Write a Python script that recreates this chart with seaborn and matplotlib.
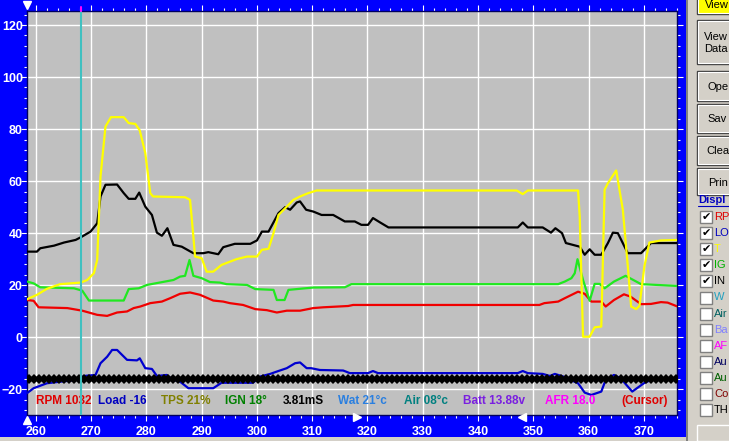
import numpy as np
import pandas as pd
import seaborn as sns
import matplotlib.pyplot as plt
from matplotlib.patches import Rectangle
from matplotlib.ticker import MultipleLocator

W, H = 729, 441

# logged channels, time in seconds
rpm_t = [258.4, 259.6, 260.5, 265.7, 268.4, 271.1, 272.9, 274.7, 276.5, 277.7, 278.9, 280.7,
         282.8, 284.3, 286.1, 287.9, 289.7, 292.1, 293.9, 295.1, 297.5, 299.7, 301.8, 303.6,
         305.4, 307.8, 310.2, 312.0, 316.5, 317.4, 351.1, 352.0, 354.5, 355.7, 358.1, 359.3,
         360.5, 362.3, 363.1, 364.6, 366.4, 367.6, 369.5, 371.3, 373.1, 374.3, 376.1]
rpm_v = [14.3, 14.0, 11.5, 11.2, 10.2, 8.6, 8.2, 9.5, 9.9, 11.2, 11.8, 13.1,
         13.7, 15.0, 16.7, 17.2, 16.3, 14.1, 13.7, 13.1, 12.4, 10.8, 10.4, 9.5,
         10.2, 10.2, 11.2, 11.5, 12.0, 12.4, 12.4, 13.1, 13.7, 15.0, 17.5, 16.7,
         13.7, 13.7, 11.8, 14.3, 16.5, 15.6, 12.7, 12.8, 13.5, 13.3, 11.8]

load_t = [258.4, 259.6, 262.0, 264.4, 267.5, 268.7, 270.8, 271.7, 272.9, 273.8, 274.7, 276.5,
          278.3, 278.8, 279.8, 281.0, 281.9, 283.7, 284.6, 286.1, 287.6, 292.1, 293.6, 299.3,
          300.6, 302.4, 303.6, 305.4, 306.9, 307.8, 309.0, 309.8, 311.4, 315.6, 316.8, 320.1,
          321.0, 321.9, 347.2, 348.1, 349.0, 351.7, 353.0, 353.9, 355.4, 356.5, 358.1, 359.3,
          360.5, 362.3, 363.1, 364.6, 365.8, 367.9, 370.0, 371.3, 376.0]
load_v = [-21.5, -19.6, -17.7, -17.1, -16.4, -14.9, -14.5, -10.0, -7.5, -4.9, -4.9, -8.7,
          -8.9, -8.1, -11.9, -12.2, -14.9, -14.5, -16.2, -17.1, -19.6, -19.6, -17.5, -17.5,
          -15.1, -14.1, -13.2, -11.9, -10.0, -9.7, -11.9, -11.9, -12.6, -12.8, -13.8, -13.8,
          -13.0, -13.8, -13.8, -13.0, -13.8, -14.1, -14.9, -14.1, -15.1, -16.2, -17.7, -21.3,
          -22.2, -20.9, -16.4, -14.5, -15.8, -20.9, -17.7, -16.4, -16.4]

tps_t = [258.4, 260.2, 262.0, 264.4, 268.1, 269.3, 270.5, 271.1, 271.7, 272.6, 273.6, 275.9,
         276.8, 278.0, 278.8, 279.8, 280.7, 281.2, 287.0, 287.9, 288.5, 288.8, 290.0, 290.9,
         292.1, 293.6, 296.3, 298.2, 300.0, 300.9, 302.1, 303.0, 303.9, 305.4, 306.6, 307.8,
         309.3, 310.8, 347.0, 348.1, 349.0, 358.1, 358.4, 359.0, 360.2, 361.1, 362.3, 362.9,
         363.5, 365.0, 366.2, 367.1, 367.7, 368.6, 369.2, 370.1, 371.0, 373.1, 376.1]
tps_v = [14.6, 16.3, 18.6, 20.4, 21.0, 22.0, 24.6, 29.7, 61.8, 81.0, 84.6, 84.6,
         82.3, 82.0, 79.5, 70.8, 55.4, 54.1, 53.8, 52.8, 38.7, 31.0, 30.4, 25.2,
         25.2, 27.8, 30.0, 31.0, 31.0, 33.6, 34.0, 40.0, 47.0, 50.2, 52.8, 54.1,
         55.4, 56.4, 56.4, 55.0, 56.4, 56.4, 46.4, 0.2, 0.2, 3.8, 4.1, 56.7,
         59.2, 64.1, 49.0, 27.2, 11.8, 10.8, 12.0, 27.2, 36.4, 37.2, 37.4]

ign_t = [258.4, 259.6, 260.8, 266.9, 268.4, 269.6, 275.9, 276.8, 278.6, 280.1, 284.9, 286.1,
         287.0, 287.8, 288.5, 290.0, 291.5, 293.3, 294.5, 298.2, 299.7, 303.0, 303.6, 305.0,
         305.7, 310.2, 315.9, 317.1, 354.5, 355.7, 356.9, 357.5, 358.0, 359.0, 360.2, 361.1,
         362.0, 362.9, 364.6, 366.7, 369.5, 376.1]
ign_v = [21.4, 20.7, 19.2, 18.8, 17.9, 14.1, 14.1, 18.5, 18.8, 20.1, 22.0, 23.3,
         23.6, 29.7, 23.6, 22.7, 21.2, 21.0, 20.4, 20.1, 18.5, 18.2, 14.3, 14.3,
         18.2, 19.1, 19.2, 20.4, 20.4, 21.4, 22.7, 24.6, 30.0, 22.0, 14.0, 20.5,
         20.5, 18.8, 21.4, 23.6, 20.4, 19.7]

inj_t = [258.4, 260.2, 260.8, 263.3, 265.1, 267.2, 268.2, 269.9, 271.1, 271.7, 272.6, 274.7,
         275.9, 276.8, 278.0, 278.7, 279.8, 281.0, 281.9, 282.8, 283.1, 283.8, 284.9, 286.4,
         288.5, 290.3, 291.2, 293.0, 293.9, 296.0, 298.8, 300.0, 300.9, 302.1, 303.9, 305.1,
         306.0, 307.2, 307.8, 308.9, 310.2, 311.7, 313.8, 315.9, 317.7, 318.9, 320.1, 321.0,
         322.3, 323.8, 347.2, 348.1, 349.0, 351.7, 353.2, 354.0, 355.2, 355.9, 358.4, 359.3,
         360.2, 361.1, 362.3, 363.5, 364.4, 365.3, 367.1, 369.5, 371.3, 376.0]
inj_v = [32.9, 32.9, 34.2, 35.2, 36.4, 37.4, 38.5, 40.6, 43.8, 54.1, 58.6, 58.7,
         55.4, 53.2, 53.2, 55.6, 50.2, 47.0, 40.2, 39.0, 39.8, 41.9, 35.5, 34.8,
         32.3, 32.3, 32.7, 31.9, 34.6, 35.9, 35.9, 37.2, 40.6, 40.6, 47.7, 50.0,
         49.0, 51.8, 52.2, 49.0, 48.3, 47.0, 47.0, 44.5, 44.5, 43.2, 43.2, 45.8,
         44.1, 42.2, 42.2, 44.1, 42.2, 42.2, 40.2, 41.9, 40.0, 36.2, 34.8, 31.7,
         33.8, 31.7, 31.7, 36.2, 40.2, 40.0, 32.3, 32.3, 36.2, 36.2]

# sample markers along the bottom
sample_t = np.arange(258.8, 376.0, 0.9)
sample_level = -16
cursor_t = 268.1

readout_text = ["RPM 1032", "Load -16", "TPS 21%", "IGN 18°", "3.81mS",
                "Wat 21°c", "Air 08°c", "Batt 13.88v", "AFR 18.0", "(Cursor)"]
readout_color = ["#e00000", "#0000c0", "#808000", "#008000", "#000000",
                 "#2a7fe0", "#008080", "#7a1fe0", "#ff00ff", "#e00000"]
readout_px = [36, 98, 161, 225, 283, 338, 404, 463, 545, 621]

# right-hand panel, texts as far as they are visible
panel_buttons = ["View", "View\nData", "Ope", "Sav", "Clea", "Prin"]
panel_button_y = [(-6, 14), (20, 64), (71, 101), (104, 133), (136, 165), (168, 195)]
panel_text_x = [705, 704, 707, 707, 706, 708]
check_labels = ["RP", "LO", "T", "IG", "IN", "W", "Air", "Ba", "AF",
                "Au", "Au", "Co", "TH"]
check_colors = ["#e00000", "#0000c0", "#ffff00", "#00b000", "#000000", "#20a0c0",
                "#006060", "#8080ff", "#ff00ff", "#000060", "#006000", "#800000", "#000000"]
check_on = [True] * 5 + [False] * 8

sns.set_style("ticks")
plt.rcParams['font.family'] = ['Liberation Sans', 'DejaVu Sans']

fig = plt.figure(figsize=(W / 100, H / 100), dpi=100, facecolor="#0000ff")
ax = fig.add_axes([27 / W, 1 - 415 / H, 650 / W, 404 / H])
ax.set_facecolor("#c0c0c0")

lines = [(rpm_t, rpm_v, "#f00000"), (load_t, load_v, "#0000d0"),
         (ign_t, ign_v, "#20e820"), (inj_t, inj_v, "#000000"), (tps_t, tps_v, "#ffff00")]
for t, v, c in lines:
    sns.lineplot(x=t, y=v, color=c, lw=1.6, sort=False, estimator=None, ax=ax, zorder=3)

sns.lineplot(x=sample_t, y=[sample_level] * len(sample_t), color="black", lw=1.2,
             marker="D", markersize=5.5, markeredgewidth=0, sort=False, estimator=None,
             ax=ax, zorder=4)

ax.axvline(cursor_t, color="#40c0c0", lw=1.5, zorder=6)

ax.set_xlim(258.4, 376.0)
ax.set_ylim(-29.9, 125.4)
ax.xaxis.set_major_locator(MultipleLocator(10))
ax.xaxis.set_minor_locator(MultipleLocator(2))
ax.yaxis.set_major_locator(MultipleLocator(20))
ax.yaxis.set_minor_locator(MultipleLocator(4))
ax.grid(True, which="major", color="white", lw=1)
ax.set_axisbelow(True)
ax.tick_params(which="both", direction="out", top=True, right=True,
               colors="white", width=0.8)
ax.tick_params(which="major", length=4)
ax.tick_params(which="minor", length=2.2)
ax.tick_params(axis="y", which="major", length=4.5, pad=-1.5)
ax.tick_params(axis="x", pad=4)
for lab in ax.get_xticklabels() + ax.get_yticklabels():
    lab.set_fontweight("bold")
    lab.set_fontsize(9)
    lab.set_color("white")
for s in ax.spines.values():
    s.set_color("#000060")
    s.set_linewidth(1)

for txt, col, px in zip(readout_text, readout_color, readout_px):
    ax.text((px - 27) / 650, 0.035, txt, color=col, fontsize=8.5, fontweight="bold",
            ha="left", va="center", transform=ax.transAxes, zorder=5)


def fx(px):
    return px / W


def fy(py):
    return 1 - py / H


# slider handles and cursor mark
for px, py, m in [(27, 5, "v"), (27, 420, "^"), (357, 417, ">"), (522, 417, "<")]:
    fig.add_artist(plt.Line2D([fx(px)], [fy(py)], marker=m, color="white",
                              markersize=5.5, transform=fig.transFigure))
fig.add_artist(plt.Line2D([fx(81), fx(81)], [fy(7), fy(11)], color="#ff00ff", lw=1.5,
                          transform=fig.transFigure))

# bottom strip and right-hand control panel
fig.add_artist(Rectangle((0, 0), 1, 4 / H, transform=fig.transFigure,
                         facecolor="#d4d0c8", edgecolor="none"))
fig.add_artist(Rectangle((fx(687), 0), 1, 1, transform=fig.transFigure,
                         facecolor="#d4d0c8", edgecolor="none"))
fig.add_artist(Rectangle((fx(686), 0), 1 / W * 1.5, 1, transform=fig.transFigure,
                         facecolor="#808080", edgecolor="none"))

for i, (lab, (y0, y1), tx) in enumerate(zip(panel_buttons, panel_button_y, panel_text_x)):
    face = "#ffff00" if i == 0 else "#d4d0c8"
    fig.add_artist(Rectangle((fx(697), fy(y1)), fx(60), (y1 - y0) / H,
                             transform=fig.transFigure, facecolor=face,
                             edgecolor="#404040", lw=1))
    fig.add_artist(Rectangle((fx(698), fy(y1 - 1)), fx(60), (y1 - y0 - 2) / H,
                             transform=fig.transFigure, facecolor=face,
                             edgecolor="white", lw=0.8))
    fig.text(fx(tx), fy((y0 + y1) / 2 + 1), lab, fontsize=8, ha="left", va="center",
             color="black", linespacing=1.3)

fig.text(fx(698), fy(200), "Displ", fontsize=8, fontweight="bold", color="#0000c0",
         ha="left", va="center")
fig.add_artist(plt.Line2D([fx(698), 1], [fy(206), fy(206)], color="#0000c0", lw=0.8,
                          transform=fig.transFigure))

for i, (lab, col, on) in enumerate(zip(check_labels, check_colors, check_on)):
    yc = 217 + 16.1 * i
    fig.add_artist(Rectangle((fx(700), fy(yc + 6)), 12 / W, 12 / H,
                             transform=fig.transFigure, facecolor="white",
                             edgecolor="#808080", lw=1))
    if on:
        fig.text(fx(706), fy(yc), "✔", fontsize=8, ha="center", va="center",
                 color="black", family="DejaVu Sans")
    fig.text(fx(714), fy(yc), lab, fontsize=8, ha="left", va="center", color=col)

fig.add_artist(Rectangle((fx(697), 0), fx(60), 16 / H, transform=fig.transFigure,
                         facecolor="#d4d0c8", edgecolor="white", lw=1))

fig.savefig("out.png", dpi=100, facecolor=fig.get_facecolor())
